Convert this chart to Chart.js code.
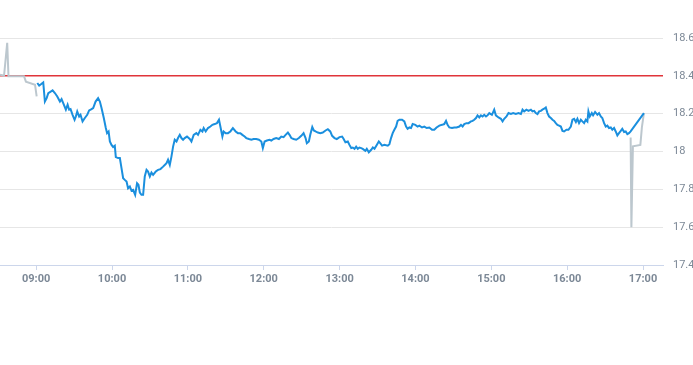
<!DOCTYPE html>
<html>
<head>
<meta charset="utf-8">
<script src="https://cdn.jsdelivr.net/npm/chart.js@4/dist/chart.umd.min.js"></script>
<style>
  html, body { margin: 0; padding: 0; background: #fff; }
  #wrap { position: relative; width: 693px; height: 365px; }
</style>
</head>
<body>
<div id="wrap"><canvas id="priceChart"></canvas></div>
<script>
// minutes after 09:00 and prices
var blueTimes = [0.9, 2.4, 4.3, 5.6, 6.9, 8.3, 9.6, 11.5, 13.0, 14.8, 16.7, 18.8, 20.1, 21.4, 23.5, 24.9, 26.1, 27.2, 28.8, 30.4,
  31.4, 32.5, 34.0, 35.1, 36.7, 38.5, 40.4, 41.9, 43.8, 45.1, 47.0, 49.0, 50.4, 51.7, 53.5, 55.1, 56.1, 57.3, 58.3, 59.6,
  60.9, 62.2, 63.0, 64.8, 66.2, 67.5, 68.8, 70.1, 71.5, 72.7, 74.1, 75.4, 76.7, 78.3, 79.8, 80.9, 82.0, 83.3, 84.6, 85.9,
  87.3, 88.5, 89.9, 91.2, 92.5, 94.6, 96.4, 98.3, 100.4, 101.7, 103.1, 104.3, 105.7, 107.0, 108.3, 109.6, 111.0, 112.2, 113.6, 114.9,
  116.2, 117.5, 119.3, 121.5, 122.8, 124.6, 126.7, 128.0, 129.9, 131.5, 132.5, 134.1, 135.9, 137.8, 139.4, 141.2, 143.0, 144.6, 145.7, 147.3,
  148.3, 149.9, 151.7, 153.6, 155.6, 157.8, 159.6, 161.5, 163.1, 164.9, 166.2, 168.3, 170.2, 172.0, 174.1, 176.2, 178.1, 179.3, 180.7, 182.5,
  184.6, 186.0, 187.8, 189.9, 192.0, 193.9, 195.7, 197.3, 199.1, 200.4, 201.8, 203.6, 205.7, 207.8, 209.7, 211.5, 213.1, 214.1, 215.7, 216.8,
  218.4, 219.6, 221.0, 222.8, 224.7, 226.7, 228.9, 230.7, 232.6, 234.1, 236.0, 237.8, 239.9, 242.0, 243.1, 244.6, 246.5, 247.8, 249.2, 250.4,
  251.8, 253.1, 254.4, 255.7, 257.1, 258.3, 260.4, 261.5, 263.1, 265.0, 266.3, 267.6, 269.4, 271.0, 272.1, 273.6, 275.4, 278.1, 279.4, 280.7,
  282.0, 283.3, 284.7, 285.9, 287.3, 289.4, 291.2, 292.6, 293.8, 295.2, 296.5, 297.8, 299.9, 301.7, 303.1, 305.2, 307.0, 308.9, 311.0, 313.1,
  314.9, 316.7, 318.9, 321.0, 322.8, 324.2, 325.4, 326.8, 328.9, 330.7, 332.5, 334.7, 336.0, 337.3, 338.6, 340.4, 342.0, 343.9, 345.2, 346.5,
  347.9, 349.1, 350.5, 351.8, 353.1, 354.4, 355.8, 357.0, 358.4, 360.5, 362.3, 363.6, 365.7, 367.6, 368.9, 370.2, 372.0, 373.6, 375.5, 377.3,
  379.4, 381.5, 383.4, 384.7, 386.0, 387.8, 389.4, 391.3, 392.6, 393.9, 395.2, 396.5, 397.8, 399.2, 400.4, 401.8, 403.1, 404.4, 405.7, 407.1,
  408.4, 409.7, 411.0, 412.3, 413.6, 415.0, 416.3, 417.6, 419.4, 421.0, 422.9, 424.2, 425.5, 426.9, 428.1, 429.4, 430.8, 432.0, 433.4, 434.7,
  436.0, 436.8, 437.9, 439.5, 440.5, 442.1, 443.9, 445.2, 446.6, 447.8, 449.2, 450.5, 451.8, 453.1, 454.5, 455.7, 457.1, 458.4, 459.7, 461.0,
  462.4, 463.6, 465.0, 466.3, 467.6, 468.9, 470.2, 480.7];
var bluePrices = [18.362, 18.348, 18.358, 18.365, 18.264, 18.282, 18.309, 18.317, 18.323, 18.309, 18.291, 18.264, 18.277, 18.256, 18.221, 18.247, 18.221, 18.224, 18.194, 18.168,
  18.185, 18.212, 18.185, 18.194, 18.159, 18.177, 18.194, 18.217, 18.224, 18.230, 18.264, 18.282, 18.264, 18.230, 18.177, 18.124, 18.097, 18.106, 18.053, 18.035,
  18.023, 18.030, 17.970, 17.965, 17.965, 17.912, 17.859, 17.850, 17.841, 17.806, 17.815, 17.793, 17.797, 17.771, 17.832, 17.824, 17.783, 17.771, 17.771, 17.868,
  17.903, 17.894, 17.868, 17.889, 17.877, 17.894, 17.903, 17.907, 17.920, 17.929, 17.938, 17.956, 17.929, 17.973, 18.026, 18.062, 18.053, 18.071, 18.088, 18.071,
  18.062, 18.071, 18.079, 18.066, 18.053, 18.088, 18.097, 18.088, 18.115, 18.106, 18.124, 18.106, 18.124, 18.132, 18.141, 18.145, 18.150, 18.168, 18.132, 18.079,
  18.106, 18.097, 18.097, 18.106, 18.124, 18.106, 18.097, 18.097, 18.088, 18.079, 18.071, 18.066, 18.062, 18.066, 18.066, 18.062, 18.053, 18.018, 18.053, 18.058,
  18.062, 18.058, 18.066, 18.071, 18.066, 18.079, 18.076, 18.088, 18.100, 18.088, 18.071, 18.066, 18.062, 18.071, 18.083, 18.097, 18.071, 18.044, 18.053, 18.088,
  18.129, 18.111, 18.106, 18.100, 18.097, 18.100, 18.111, 18.118, 18.106, 18.083, 18.071, 18.066, 18.076, 18.079, 18.067, 18.049, 18.053, 18.035, 18.018, 18.021,
  18.014, 18.026, 18.014, 18.021, 18.018, 18.014, 18.004, 18.014, 17.996, 18.009, 18.021, 18.014, 18.035, 18.053, 18.044, 18.031, 18.035, 18.031, 18.039, 18.071,
  18.097, 18.115, 18.132, 18.162, 18.168, 18.168, 18.159, 18.132, 18.120, 18.127, 18.124, 18.145, 18.141, 18.132, 18.137, 18.127, 18.132, 18.124, 18.127, 18.115,
  18.115, 18.127, 18.137, 18.141, 18.145, 18.162, 18.141, 18.127, 18.124, 18.127, 18.127, 18.132, 18.141, 18.132, 18.145, 18.150, 18.150, 18.159, 18.162, 18.168,
  18.177, 18.191, 18.180, 18.191, 18.185, 18.194, 18.185, 18.191, 18.203, 18.194, 18.221, 18.191, 18.180, 18.173, 18.159, 18.173, 18.185, 18.203, 18.198, 18.203,
  18.198, 18.203, 18.198, 18.221, 18.212, 18.221, 18.215, 18.221, 18.212, 18.215, 18.203, 18.198, 18.212, 18.215, 18.221, 18.226, 18.233, 18.203, 18.185, 18.177,
  18.168, 18.162, 18.150, 18.141, 18.137, 18.132, 18.109, 18.106, 18.115, 18.115, 18.132, 18.168, 18.173, 18.156, 18.173, 18.150, 18.168, 18.159, 18.150, 18.168,
  18.159, 18.212, 18.185, 18.203, 18.191, 18.209, 18.194, 18.203, 18.185, 18.177, 18.150, 18.132, 18.137, 18.124, 18.127, 18.115, 18.124, 18.106, 18.085, 18.097,
  18.109, 18.120, 18.103, 18.106, 18.092, 18.097, 18.106, 18.203];

var preTimes = [-28.6, -25.4, -22.9, -21.9, -9.6, -8.1, -0.9, 0.4];
var prePrices = [18.406, 18.400, 18.575, 18.398, 18.398, 18.369, 18.353, 18.291];

var postTimes = [470.2, 470.8, 472.0, 477.9, 479.1, 480.7];
var postPrices = [18.074, 17.600, 18.027, 18.035, 18.127, 18.203];

var prevClose = 18.4;
var xTickTimes = [0, 60, 120, 180, 240, 300, 360, 420, 480];
var yTickValues = [17.4, 17.6, 17.8, 18, 18.2, 18.4, 18.6];

var openMin = 540;      // 09:00
var xMin = 511.4;
var xMax = 1035.8;

function toPoints(times, prices) {
  return times.map(function (t, i) { return { x: openMin + t, y: prices[i] }; });
}

function hhmm(v) {
  var h = Math.floor(v / 60), m = Math.round(v % 60);
  return (h < 10 ? '0' : '') + h + ':' + (m < 10 ? '0' : '') + m;
}

new Chart(document.getElementById('priceChart'), {
  type: 'line',
  data: {
    datasets: [
      { data: toPoints(blueTimes, bluePrices), borderColor: '#1a8fde', borderWidth: 2, order: 0 },
      { data: toPoints(preTimes, prePrices), borderColor: '#bcc7ce', borderWidth: 2, order: 1 },
      { data: toPoints(postTimes, postPrices), borderColor: '#bcc7ce', borderWidth: 2, order: 1 },
      { data: [{ x: xMin, y: prevClose }, { x: xMax, y: prevClose }], borderColor: '#e0343a', borderWidth: 1.5, order: 2 }
    ]
  },
  options: {
    responsive: true,
    maintainAspectRatio: false,
    animation: false,
    layout: { padding: { top: 38, left: 0, right: 0, bottom: 75 } },
    elements: { point: { radius: 0, hitRadius: 0 }, line: { tension: 0 } },
    plugins: { legend: { display: false }, tooltip: { enabled: false } },
    scales: {
      x: {
        type: 'linear',
        min: xMin,
        max: xMax,
        afterBuildTicks: function (scale) {
          scale.ticks = xTickTimes.map(function (t) { return { value: openMin + t }; });
        },
        afterFit: function (scale) { scale.height = 25; },
        grid: { drawOnChartArea: false, drawTicks: true, tickLength: 5, color: '#ccd6eb' },
        border: { color: '#ccd6eb' },
        ticks: {
          padding: 3,
          maxRotation: 0,
          color: '#7c8896',
          font: { family: 'Roboto', size: 11, weight: 'bold' },
          callback: function (v) { return hhmm(v); }
        }
      },
      y: {
        position: 'right',
        min: 17.4,
        max: 18.6,
        afterBuildTicks: function (scale) {
          scale.ticks = yTickValues.map(function (v) { return { value: v }; });
        },
        afterFit: function (scale) { scale.width = 30; },
        grid: { color: '#e6e6e6', drawTicks: false },
        border: { display: false },
        ticks: {
          padding: 10,
          color: '#7c8896',
          font: { family: 'Roboto', size: 11 },
          callback: function (v) { return String(+v.toFixed(1)); }
        }
      }
    }
  }
});
</script>
</body>
</html>
